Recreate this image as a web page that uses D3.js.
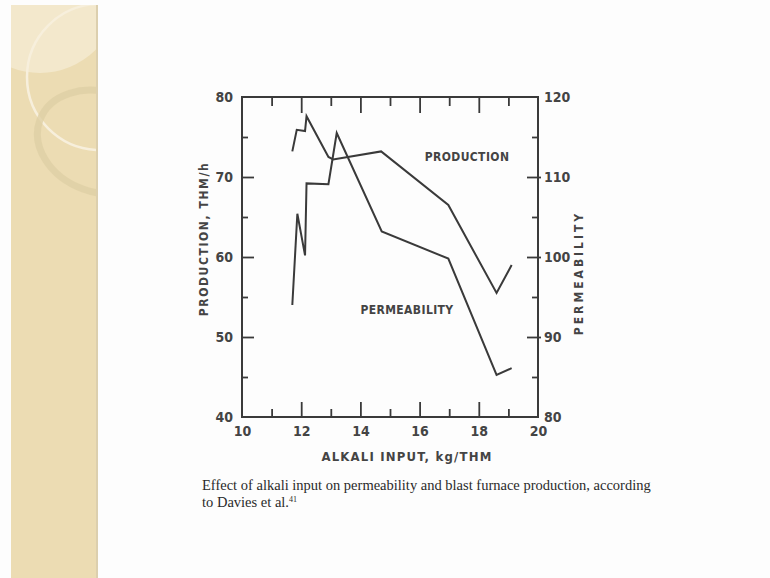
<!DOCTYPE html>
<html>
<head>
<meta charset="utf-8">
<script src="https://cdn.jsdelivr.net/npm/d3@7"></script>
<style>
  html, body { margin: 0; padding: 0; background: #fdfdfd; }
  svg { display: block; }
</style>
</head>
<body>
<svg id="chart" width="770" height="578"></svg>
<script>
// Data
const prodAlkali   = [11.70, 11.85, 12.13, 12.18, 12.92, 13.08, 14.70, 16.97, 18.60, 19.11];
const production   = [73.2, 75.9, 75.75, 77.6, 72.5, 72.2, 73.2, 66.5, 55.5, 59.0];
const permAlkali   = [11.70, 11.87, 12.13, 12.18, 12.92, 13.20, 14.72, 16.97, 18.60, 19.11];
const permeability = [94.0, 105.4, 100.2, 109.2, 109.1, 115.5, 103.2, 99.8, 85.25, 86.1];

const xLabels = [10, 12, 14, 16, 18, 20];
const xMajor = [12, 14, 16, 18];
const xMinor = [11, 13, 15, 17, 19];
const yLeftLabels = [40, 50, 60, 70, 80];
const yLeftMajor = [50, 60, 70];
const yLeftMinor = [45, 55, 65, 75];
const yRightLabels = [80, 90, 100, 110, 120];
const yRightMajor = [90, 100, 110];
const yRightMinor = [85, 95, 105, 115];

const svg = d3.select("#chart");
const ink = "#3a3a3a";
const tickFont = "'DejaVu Sans Condensed', 'DejaVu Sans', sans-serif";

// Slide decoration (left beige panel)
const defs = svg.append("defs");
defs.append("clipPath").attr("id", "panelClip")
  .append("rect").attr("x", 11).attr("y", 5).attr("width", 85).attr("height", 573);
svg.append("rect").attr("x", 11).attr("y", 5).attr("width", 85).attr("height", 573).attr("fill", "#ecdcb3");
svg.append("rect").attr("x", 96).attr("y", 5).attr("width", 2).attr("height", 573).attr("fill", "#dccfae");
const deco = svg.append("g").attr("clip-path", "url(#panelClip)");
deco.append("circle").attr("cx", 40).attr("cy", -5).attr("r", 78).attr("fill", "#f3e8cc");
deco.append("circle").attr("cx", 100).attr("cy", 77).attr("r", 73)
  .attr("fill", "none").attr("stroke", "#f7efdc").attr("stroke-width", 2.5);
deco.append("ellipse").attr("cx", 100).attr("cy", 142).attr("rx", 64).attr("ry", 50)
  .attr("transform", "rotate(20,100,142)")
  .attr("fill", "none").attr("stroke", "#dfcfa5").attr("stroke-width", 7).attr("opacity", 0.8);

// Plot area
const pLeft = 242, pRight = 538, pTop = 97, pBottom = 417;
const x = d3.scaleLinear().domain([10, 20]).range([pLeft, pRight]);
const yL = d3.scaleLinear().domain([40, 80]).range([pBottom, pTop]);
const yR = d3.scaleLinear().domain([80, 120]).range([pBottom, pTop]);

function styleAxis(g) {
  g.select(".domain").remove();
  g.selectAll(".tick line").attr("stroke", ink).attr("stroke-width", 1.8);
  g.selectAll(".tick text").attr("fill", "#444").attr("font-family", tickFont)
    .attr("font-size", 14).attr("font-weight", "bold");
}

// bottom axis: inward ticks and labels
svg.append("g").attr("transform", `translate(0,${pBottom})`)
  .call(d3.axisBottom(x).tickValues(xMajor).tickSize(-15).tickFormat("")).call(styleAxis);
svg.append("g").attr("transform", `translate(0,${pBottom})`)
  .call(d3.axisBottom(x).tickValues(xMinor).tickSize(-8).tickFormat("")).call(styleAxis);
svg.append("g").attr("transform", `translate(0,${pBottom + 2})`)
  .call(d3.axisBottom(x).tickValues(xLabels).tickSize(0).tickPadding(7).tickFormat(d3.format("d"))).call(styleAxis);

// top axis: inward ticks only
svg.append("g").attr("transform", `translate(0,${pTop})`)
  .call(d3.axisTop(x).tickValues(xMajor).tickSize(-16).tickFormat("")).call(styleAxis);
svg.append("g").attr("transform", `translate(0,${pTop})`)
  .call(d3.axisTop(x).tickValues(xMinor).tickSize(-9).tickFormat("")).call(styleAxis);

// left axis
svg.append("g").attr("transform", `translate(${pLeft},0)`)
  .call(d3.axisLeft(yL).tickValues(yLeftMajor).tickSize(-12).tickFormat("")).call(styleAxis);
svg.append("g").attr("transform", `translate(${pLeft},0)`)
  .call(d3.axisLeft(yL).tickValues(yLeftMinor).tickSize(-6).tickFormat("")).call(styleAxis);
svg.append("g").attr("transform", `translate(${pLeft},0)`)
  .call(d3.axisLeft(yL).tickValues(yLeftLabels).tickSize(0).tickPadding(9).tickFormat(d3.format("d"))).call(styleAxis);

// right axis
svg.append("g").attr("transform", `translate(${pRight},0)`)
  .call(d3.axisRight(yR).tickValues(yRightMajor).tickSize(-11).tickFormat("")).call(styleAxis);
svg.append("g").attr("transform", `translate(${pRight},0)`)
  .call(d3.axisRight(yR).tickValues(yRightMajor).tickSize(3).tickFormat("")).call(styleAxis);
svg.append("g").attr("transform", `translate(${pRight},0)`)
  .call(d3.axisRight(yR).tickValues(yRightMinor).tickSize(-6).tickFormat("")).call(styleAxis);
svg.append("g").attr("transform", `translate(${pRight},0)`)
  .call(d3.axisRight(yR).tickValues(yRightLabels).tickSize(0).tickPadding(6).tickFormat(d3.format("d"))).call(styleAxis);

// frame
svg.append("rect").attr("x", pLeft).attr("y", pTop).attr("width", pRight - pLeft).attr("height", pBottom - pTop)
  .attr("fill", "none").attr("stroke", ink).attr("stroke-width", 2);

// curves
const prodLine = d3.line().x(d => x(d[0])).y(d => yL(d[1]));
const permLine = d3.line().x(d => x(d[0])).y(d => yR(d[1]));
svg.append("path").datum(d3.zip(prodAlkali, production)).attr("d", prodLine)
  .attr("fill", "none").attr("stroke", ink).attr("stroke-width", 2).attr("stroke-linejoin", "miter");
svg.append("path").datum(d3.zip(permAlkali, permeability)).attr("d", permLine)
  .attr("fill", "none").attr("stroke", ink).attr("stroke-width", 2).attr("stroke-linejoin", "miter");

// in-plot labels
const lblFont = { "font-family": tickFont, "font-size": 12, "font-weight": 600, fill: "#444", "letter-spacing": 0.4 };
function applyAttrs(sel, o) { Object.entries(o).forEach(([k, v]) => sel.attr(k, v)); return sel; }
applyAttrs(svg.append("text").attr("x", 467).attr("y", 161).attr("text-anchor", "middle").text("PRODUCTION"), lblFont);
applyAttrs(svg.append("text").attr("x", 407).attr("y", 314).attr("text-anchor", "middle").text("PERMEABILITY"), lblFont);

// axis titles
applyAttrs(svg.append("text").attr("transform", "translate(208,239) rotate(-90)").attr("text-anchor", "middle")
  .text("PRODUCTION, THM/h"), lblFont).attr("letter-spacing", 1.6);
applyAttrs(svg.append("text").attr("transform", "translate(583,273) rotate(-90)").attr("text-anchor", "middle")
  .text("PERMEABILITY"), lblFont).attr("letter-spacing", 3);
applyAttrs(svg.append("text").attr("x", 407).attr("y", 461).attr("text-anchor", "middle")
  .text("ALKALI INPUT, kg/THM"), lblFont).attr("font-size", 13).attr("letter-spacing", 1.2);

// caption
const cap = svg.append("text").attr("font-family", "'Liberation Serif', 'DejaVu Serif', serif")
  .attr("font-size", 14.5).attr("fill", "#2a2a2a");
cap.append("tspan").attr("x", 202).attr("y", 490)
  .text("Effect of alkali input on permeability and blast furnace production, according");
const l2 = cap.append("tspan").attr("x", 202).attr("y", 507).text("to Davies et al.");
l2.append("tspan").attr("font-size", 8).attr("dy", -5).text("41");
</script>
</body>
</html>
